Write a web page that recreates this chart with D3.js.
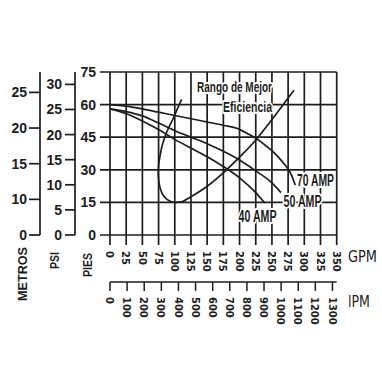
<!DOCTYPE html>
<html><head><meta charset="utf-8">
<script src="https://cdn.jsdelivr.net/npm/d3@7"></script>
<style>
html,body{margin:0;padding:0;background:#fff;}
svg{display:block;}
</style></head><body>
<svg id="c" width="382" height="382"></svg>
<script>
// ---- data ----
const gpmTicks = [0,25,50,75,100,125,150,175,200,225,250,275,300,325,350];
const lpmTicks = [0,100,200,300,400,500,600,700,800,900,1000,1100,1200,1300];
const piesTicks = [0,15,30,45,60,75];
const psiTicks = [0,5,10,15,20,25,30];
const metrosTicks = [5,10,15,20,25];
const metrosLabels = ["0","10","15","20","25"];

const amp70Gpm = [0,25,50,75,100,125,150,175,200,215,227,240,250,260,270,280,286];
const amp70Ft  = [60,59.3,58,56.5,55,53.5,52,50.5,48.6,46.2,44.2,41.2,38.8,35.8,32.3,27.7,23];
const amp50Gpm = [0,25,50,75,100,125,150,175,200,225,250,264];
const amp50Ft  = [58,56.8,54.8,51.5,48,45,42,38.5,34.5,29.5,24,19.5];
const amp40Gpm = [0,25,50,75,100,125,150,175,200,225,239];
const amp40Ft  = [58,55.8,52.5,48.5,44,40,36,31.5,26.3,19.5,14.7];
const effGpm = [110.5,104,97.5,90,84.5,80,77,75,74.5,75.5,78,82,88,95,103,112,124,149,180,205,226.5,245,265,284];
const effFt  = [62.4,58,53.6,49,45,40.5,36,32,28,24.5,21,18.3,16.4,15.3,15,15.4,17.4,22.2,30,37.3,44.2,51.2,59,66.6];

const curveNames = ["70 AMP","50 AMP","40 AMP"];

// ---- drawing ----
const ink = "#1d1d1d";
const svg = d3.select("#c");
const x = d3.scaleLinear().domain([0,350]).range([110,336.7]);
const xl = d3.scaleLinear().domain([0,350*3.785]).range([110,336.7]);
const y = d3.scaleLinear().domain([0,75]).range([235,72]);
const yPsi = d3.scaleLinear().domain([0,75/2.31]).range([235,72]);
const yM = d3.scaleLinear().domain([5,5+75/3.281]).range([235,72]);

const g = svg.append("g");
g.selectAll(".vg").data(gpmTicks).join("line")
  .attr("x1",d=>x(d)).attr("x2",d=>x(d)).attr("y1",y(75)).attr("y2",y(0)+10)
  .attr("stroke",ink).attr("stroke-width",1.7);
g.selectAll(".hg").data(piesTicks).join("line")
  .attr("x1",100).attr("x2",x(350)).attr("y1",d=>y(d)).attr("y2",d=>y(d))
  .attr("stroke",ink).attr("stroke-width",1.7);

const lab = {"font-family":"'Liberation Sans',Arial,sans-serif","font-weight":"bold","font-size":"14px","fill":ink};
function applyAttrs(sel,o){for(const k in o) sel.attr(k,o[k]); return sel;}

applyAttrs(g.selectAll(".pl").data(piesTicks).join("text")
  .attr("x",96).attr("y",d=>y(d)+5).attr("text-anchor","end").text(d=>d),lab);

g.append("line").attr("x1",75).attr("x2",75).attr("y1",72).attr("y2",235).attr("stroke",ink).attr("stroke-width",1.7);
g.selectAll(".pt").data(psiTicks).join("line")
  .attr("x1",65).attr("x2",75).attr("y1",d=>yPsi(d)).attr("y2",d=>yPsi(d)).attr("stroke",ink).attr("stroke-width",1.7);
applyAttrs(g.selectAll(".psl").data(psiTicks).join("text")
  .attr("x",62).attr("y",d=>yPsi(d)+5).attr("text-anchor","end").text(d=>d),lab);

g.append("line").attr("x1",40).attr("x2",40).attr("y1",72).attr("y2",235).attr("stroke",ink).attr("stroke-width",1.7);
g.selectAll(".mt").data(metrosTicks).join("line")
  .attr("x1",29).attr("x2",40).attr("y1",d=>yM(d)).attr("y2",d=>yM(d)).attr("stroke",ink).attr("stroke-width",1.7);
applyAttrs(g.selectAll(".ml").data(metrosTicks).join("text")
  .attr("x",27).attr("y",d=>yM(d)+5).attr("text-anchor","end").text((d,i)=>metrosLabels[i]),lab);

const titles = [{t:"METROS",x:27,y:301,len:54},{t:"PSI",x:59,y:269,len:17},{t:"PIES",x:92,y:277,len:24}];
titles.forEach(o=>{
  svg.append("text").attr("transform",`translate(${o.x},${o.y}) rotate(-90)`)
    .attr("font-family","'Liberation Sans',Arial,sans-serif").attr("font-weight","bold")
    .attr("font-size","12px").attr("fill",ink)
    .attr("textLength",o.len).attr("lengthAdjust","spacingAndGlyphs").text(o.t);
});

const tickFont = "'DejaVu Sans Condensed','DejaVu Sans',sans-serif";
g.selectAll(".gl").data(gpmTicks).join("text")
  .attr("transform",d=>`translate(${x(d)},251) rotate(90)`)
  .attr("dy","0.35em").attr("font-family",tickFont).attr("font-weight","bold")
  .attr("font-size","11px").attr("fill",ink).text(d=>d);
svg.append("text").attr("x",348).attr("y",262).attr("font-family",tickFont).attr("font-size","15px")
  .attr("fill",ink).attr("textLength",29).attr("lengthAdjust","spacingAndGlyphs").text("GPM");

g.append("line").attr("x1",xl(0)).attr("x2",x(350)).attr("y1",282).attr("y2",282).attr("stroke",ink).attr("stroke-width",1.5);
g.selectAll(".lt").data(lpmTicks).join("line")
  .attr("x1",d=>xl(d)).attr("x2",d=>xl(d)).attr("y1",282).attr("y2",291).attr("stroke",ink).attr("stroke-width",1.5);
g.selectAll(".ll").data(lpmTicks).join("text")
  .attr("transform",d=>`translate(${xl(d)},297) rotate(90)`)
  .attr("dy","0.35em").attr("font-family",tickFont).attr("font-weight","bold")
  .attr("font-size","11px").attr("fill",ink).text(d=>d);
svg.append("text").attr("x",348).attr("y",307).attr("font-family",tickFont).attr("font-size","15px")
  .attr("fill",ink).attr("textLength",22).attr("lengthAdjust","spacingAndGlyphs").text("lPM");

const line = d3.line().x(d=>x(d[0])).y(d=>y(d[1])).curve(d3.curveMonotoneX);
const series = [d3.zip(amp70Gpm,amp70Ft), d3.zip(amp50Gpm,amp50Ft), d3.zip(amp40Gpm,amp40Ft)];
svg.selectAll(".curve").data(series).join("path")
  .attr("d",line).attr("fill","none").attr("stroke",ink).attr("stroke-width",1.7);
const effLine = d3.line().x(d=>x(d[0])).y(d=>y(d[1])).curve(d3.curveCatmullRom.alpha(0.5));
svg.append("path").datum(d3.zip(effGpm,effFt)).attr("d",effLine)
  .attr("fill","none").attr("stroke",ink).attr("stroke-width",1.7);

const bold = "'Liberation Sans Narrow','Liberation Sans',Arial,sans-serif";
function halo(txt,px,py,len,size){
  svg.append("text").attr("x",px).attr("y",py).attr("font-family",bold).attr("font-weight","bold")
    .attr("font-size",size).attr("fill",ink).attr("stroke","#fff").attr("stroke-width",4)
    .attr("paint-order","stroke").attr("stroke-linejoin","round")
    .attr("textLength",len).attr("lengthAdjust","spacingAndGlyphs").text(txt);
}
halo("Rango de Mejor",197,92,75,"14.5px");
halo("Eficiencia",223,112,49,"14.5px");
const labPos = [[297,186,37],[283.5,207,38],[238.5,222,38]];
curveNames.forEach((n,i)=>halo(n,labPos[i][0],labPos[i][1],labPos[i][2],"16px"));
</script>
</body></html>
